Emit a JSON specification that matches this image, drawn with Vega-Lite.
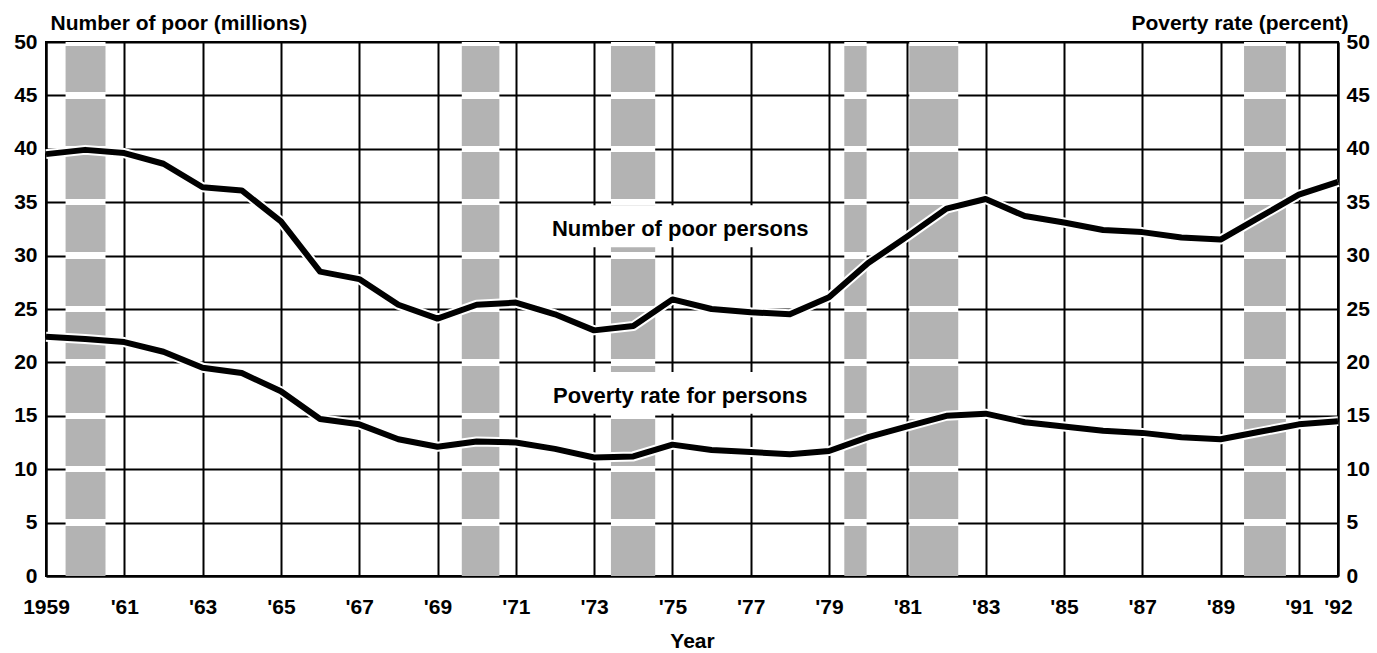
{
  "$schema": "https://vega.github.io/schema/vega-lite/v6.json",
  "width": 1292,
  "height": 534,
  "autosize": {"type": "none"},
  "padding": {"left": 46, "top": 42, "right": 39, "bottom": 77},
  "background": "white",
  "config": {
    "view": {"stroke": "black", "strokeWidth": 2},
    "font": "Liberation Sans",
    "axis": {
      "domainColor": "black", "domainWidth": 2,
      "gridColor": "black", "gridWidth": 2, "gridOpacity": 1,
      "ticks": false,
      "labelFont": "Liberation Sans", "labelFontSize": 21, "labelFontWeight": "bold", "labelColor": "black",
      "titleFont": "Liberation Sans", "titleFontSize": 21, "titleFontWeight": "bold", "titleColor": "black"
    }
  },
  "datasets": {
    "poverty": [
      {"year": 1959, "poor": 39.5, "rate": 22.4},
      {"year": 1960, "poor": 39.9, "rate": 22.2},
      {"year": 1961, "poor": 39.6, "rate": 21.9},
      {"year": 1962, "poor": 38.6, "rate": 21.0},
      {"year": 1963, "poor": 36.4, "rate": 19.5},
      {"year": 1964, "poor": 36.1, "rate": 19.0},
      {"year": 1965, "poor": 33.2, "rate": 17.3},
      {"year": 1966, "poor": 28.5, "rate": 14.7},
      {"year": 1967, "poor": 27.8, "rate": 14.2},
      {"year": 1968, "poor": 25.4, "rate": 12.8},
      {"year": 1969, "poor": 24.1, "rate": 12.1},
      {"year": 1970, "poor": 25.4, "rate": 12.6},
      {"year": 1971, "poor": 25.6, "rate": 12.5},
      {"year": 1972, "poor": 24.5, "rate": 11.9},
      {"year": 1973, "poor": 23.0, "rate": 11.1},
      {"year": 1974, "poor": 23.4, "rate": 11.2},
      {"year": 1975, "poor": 25.9, "rate": 12.3},
      {"year": 1976, "poor": 25.0, "rate": 11.8},
      {"year": 1977, "poor": 24.7, "rate": 11.6},
      {"year": 1978, "poor": 24.5, "rate": 11.4},
      {"year": 1979, "poor": 26.1, "rate": 11.7},
      {"year": 1980, "poor": 29.3, "rate": 13.0},
      {"year": 1981, "poor": 31.8, "rate": 14.0},
      {"year": 1982, "poor": 34.4, "rate": 15.0},
      {"year": 1983, "poor": 35.3, "rate": 15.2},
      {"year": 1984, "poor": 33.7, "rate": 14.4},
      {"year": 1985, "poor": 33.1, "rate": 14.0},
      {"year": 1986, "poor": 32.4, "rate": 13.6},
      {"year": 1987, "poor": 32.2, "rate": 13.4},
      {"year": 1988, "poor": 31.7, "rate": 13.0},
      {"year": 1989, "poor": 31.5, "rate": 12.8},
      {"year": 1990, "poor": 33.6, "rate": 13.5},
      {"year": 1991, "poor": 35.7, "rate": 14.2},
      {"year": 1992, "poor": 36.9, "rate": 14.5}
    ],
    "recessions": [
      {"year": 1959.5, "end": 1960.52},
      {"year": 1969.62, "end": 1970.58},
      {"year": 1973.43, "end": 1974.56},
      {"year": 1979.39, "end": 1979.96},
      {"year": 1981.05, "end": 1982.3},
      {"year": 1989.6, "end": 1990.67}
    ],
    "labels": [
      {"year": 1975.2, "value": 31.8, "label": "Number of poor persons"},
      {"year": 1975.2, "value": 16.2, "label": "Poverty rate for persons"}
    ]
  },
  "encoding": {
    "x": {
      "field": "year", "type": "quantitative",
      "scale": {"domain": [1959, 1992], "nice": false, "zero": false},
      "axis": {
        "title": "Year",
        "values": [1959, 1961, 1963, 1965, 1967, 1969, 1971, 1973, 1975, 1977, 1979, 1981, 1983, 1985, 1987, 1989, 1991, 1992],
        "format": "d",
        "labelExpr": "datum.value == 1959 ? '1959' : \"'\" + substring(datum.label, 2)",
        "grid": true,
        "labelFlush": false,
        "labelOverlap": false,
        "labelPadding": 20,
        "titlePadding": 13
      }
    }
  },
  "layer": [
    {
      "data": {"name": "recessions"},
      "mark": {
        "type": "rect",
        "fill": {
          "gradient": "linear", "x1": 0, "y1": 0, "x2": 0, "y2": 1,
          "stops": [
            {"offset": 0, "color": "white"}, {"offset": 0.007, "color": "white"}, {"offset": 0.007, "color": "#b3b3b3"},
            {"offset": 0.094, "color": "#b3b3b3"}, {"offset": 0.094, "color": "white"}, {"offset": 0.106, "color": "white"}, {"offset": 0.106, "color": "#b3b3b3"},
            {"offset": 0.194, "color": "#b3b3b3"}, {"offset": 0.194, "color": "white"}, {"offset": 0.206, "color": "white"}, {"offset": 0.206, "color": "#b3b3b3"},
            {"offset": 0.294, "color": "#b3b3b3"}, {"offset": 0.294, "color": "white"}, {"offset": 0.306, "color": "white"}, {"offset": 0.306, "color": "#b3b3b3"},
            {"offset": 0.394, "color": "#b3b3b3"}, {"offset": 0.394, "color": "white"}, {"offset": 0.406, "color": "white"}, {"offset": 0.406, "color": "#b3b3b3"},
            {"offset": 0.494, "color": "#b3b3b3"}, {"offset": 0.494, "color": "white"}, {"offset": 0.506, "color": "white"}, {"offset": 0.506, "color": "#b3b3b3"},
            {"offset": 0.594, "color": "#b3b3b3"}, {"offset": 0.594, "color": "white"}, {"offset": 0.606, "color": "white"}, {"offset": 0.606, "color": "#b3b3b3"},
            {"offset": 0.694, "color": "#b3b3b3"}, {"offset": 0.694, "color": "white"}, {"offset": 0.706, "color": "white"}, {"offset": 0.706, "color": "#b3b3b3"},
            {"offset": 0.794, "color": "#b3b3b3"}, {"offset": 0.794, "color": "white"}, {"offset": 0.806, "color": "white"}, {"offset": 0.806, "color": "#b3b3b3"},
            {"offset": 0.894, "color": "#b3b3b3"}, {"offset": 0.894, "color": "white"}, {"offset": 0.906, "color": "white"}, {"offset": 0.906, "color": "#b3b3b3"},
            {"offset": 1, "color": "#b3b3b3"}
          ]
        }
      },
      "encoding": {"x2": {"field": "end"}}
    },
    {
      "data": {"name": "poverty"},
      "mark": {"type": "line", "color": "white", "strokeWidth": 10, "strokeJoin": "round"},
      "encoding": {"y": {"field": "poor", "type": "quantitative", "scale": {"domain": [0, 50], "nice": false}, "axis": null}}
    },
    {
      "data": {"name": "poverty"},
      "mark": {"type": "line", "color": "white", "strokeWidth": 10, "strokeJoin": "round"},
      "encoding": {"y": {"field": "rate", "type": "quantitative", "scale": {"domain": [0, 50], "nice": false}, "axis": null}}
    },
    {
      "data": {"name": "poverty"},
      "mark": {"type": "line", "color": "black", "strokeWidth": 6, "strokeJoin": "round"},
      "encoding": {
        "y": {
          "field": "poor", "type": "quantitative", "scale": {"domain": [0, 50], "nice": false},
          "axis": {
            "orient": "left", "values": [0, 5, 10, 15, 20, 25, 30, 35, 40, 45, 50], "grid": true,
            "title": "Number of poor (millions)", "titleAngle": 0, "titleAlign": "left", "titleBaseline": "alphabetic",
            "titleX": 4, "titleY": -13, "labelPadding": 9
          }
        }
      }
    },
    {
      "data": {"name": "poverty"},
      "mark": {"type": "line", "color": "black", "strokeWidth": 6, "strokeJoin": "round"},
      "encoding": {
        "y": {
          "field": "rate", "type": "quantitative", "scale": {"domain": [0, 50], "nice": false},
          "axis": {
            "orient": "right", "values": [0, 5, 10, 15, 20, 25, 30, 35, 40, 45, 50], "grid": false,
            "title": "Poverty rate (percent)", "titleAngle": 0, "titleAlign": "right", "titleBaseline": "alphabetic",
            "titleX": 10, "titleY": -13, "labelPadding": 8
          }
        }
      }
    },
    {
      "data": {"name": "labels"},
      "mark": {"type": "point", "shape": "M-1,-0.23L1,-0.23L1,0.08L-1,0.08Z", "size": 72900, "filled": true, "color": "white", "opacity": 1, "strokeWidth": 0},
      "encoding": {
        "y": {"field": "value", "type": "quantitative", "scale": {"domain": [0, 50], "nice": false}, "axis": null}
      }
    },
    {
      "data": {"name": "labels"},
      "mark": {"type": "text", "fontSize": 22, "fontWeight": "bold", "align": "center", "baseline": "alphabetic", "color": "black"},
      "encoding": {
        "y": {"field": "value", "type": "quantitative", "scale": {"domain": [0, 50], "nice": false}, "axis": null},
        "text": {"field": "label"}
      }
    }
  ],
  "resolve": {"scale": {"y": "shared"}, "axis": {"y": "independent"}}
}
